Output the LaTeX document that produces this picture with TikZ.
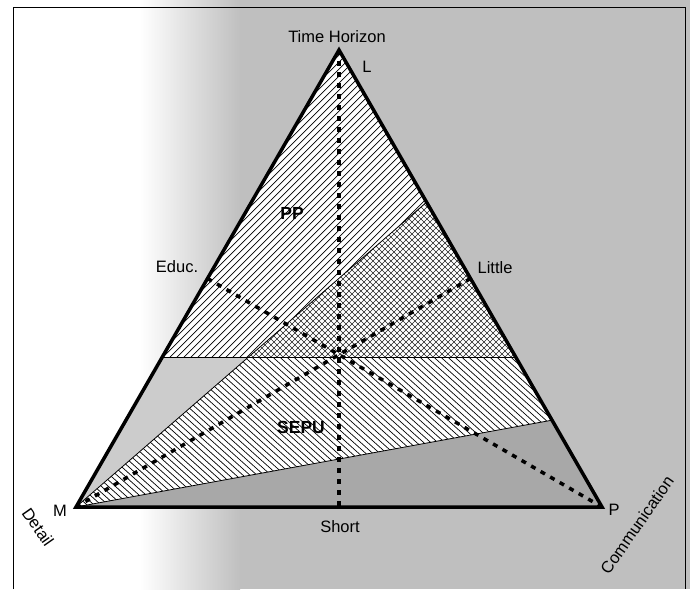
\documentclass[tikz,border=0pt]{standalone}
\usepackage{fontspec}
\setmainfont{Liberation Sans}
\usetikzlibrary{calc}
\definecolor{bggray}{gray}{0.75}
\definecolor{wedgegray}{gray}{0.80}
\definecolor{basegray}{gray}{0.66}
\begin{document}
\begin{tikzpicture}[x=1pt,y=-1pt,
  lbl/.style={font=\fontsize{16.5}{18}\selectfont, inner sep=0pt},
  blbl/.style={font=\fontsize{17.5}{19}\selectfont\bfseries, inner sep=0pt},
  edgeline/.style={line width=3.5pt, line join=miter},
  median/.style={line width=3.5pt, dash pattern=on 5pt off 6pt},
  bound/.style={line width=0.8pt},
  hatchline/.style={line width=0.7pt},
  crossline/.style={line width=0.6pt, black!85},
  frameline/.style={line width=1pt}]
\useasboundingbox (0,0) rectangle (690,589);
% background
\fill[white] (0,0) rectangle (690,589);
\shade[left color=white, right color=bggray] (140,0) rectangle (240,589);
\fill[bggray] (240,0) rectangle (690,589);
\draw[frameline] (13,589) -- (13,7) -- (685,7) -- (685,589);
% key points
\coordinate (L) at (339,50);
\coordinate (M) at (76,507);
\coordinate (P) at (602,507);
\coordinate (A) at ($(L)!0.672!(M)$);
\coordinate (B) at ($(L)!0.672!(P)$);
\coordinate (Q) at ($(L)!0.333!(P)$);
\coordinate (R) at ($(L)!0.81!(P)$);
\coordinate (H) at (intersection of M--Q and A--B);
\coordinate (E) at ($(L)!0.5!(M)$);
\coordinate (Li) at ($(L)!0.5!(P)$);
\coordinate (S) at ($(M)!0.5!(P)$);
% grey wedges
\fill[wedgegray] (A) -- (H) -- (M) -- cycle;
\fill[basegray] (M) -- (R) -- (P) -- cycle;
% PP region
\fill[white] (L) -- (Q) -- (H) -- (A) -- cycle;
\begin{scope}
  \clip (L) -- (Q) -- (H) -- (A) -- cycle;
  \foreach \x in {-500,-493,...,700} \draw[hatchline] (\x,600) -- ++(600,-600);
\end{scope}
% crosshatch region
\fill[white] (H) -- (Q) -- (B) -- cycle;
\begin{scope}
  \clip (H) -- (Q) -- (B) -- cycle;
  \foreach \x in {-500,-494,...,800} {
    \draw[crossline] (\x,600) -- ++(600,-600);
    \draw[crossline] (\x,0) -- ++(600,600);
  }
\end{scope}
% SEPU region
\fill[white] (H) -- (B) -- (R) -- (M) -- cycle;
\begin{scope}
  \clip (H) -- (B) -- (R) -- (M) -- cycle;
  \foreach \x in {-600,-593,...,700} \draw[hatchline] (\x,0) -- ++(600,540);
\end{scope}
% boundaries
\draw[bound] (A) -- (B);
\draw[bound] (M) -- (Q);
\draw[bound] (M) -- (R);
% medians
\draw[median] (L) -- (S);
\draw[median] (E) -- (P);
\draw[median] (Li) -- (M);
% triangle
\draw[edgeline] (L) -- (M) -- (P) -- cycle;
% labels
\node[lbl] (th) at (337,37) {Time Horizon};
\node[lbl] (lL) at (367,67) {L};
\node[lbl] (educ) at (177,267) {Educ.};
\node[lbl] (little) at (495,268) {Little};
\node[blbl] (pp) at (292,213) {PP};
\node[blbl] (sepu) at (301,427) {SEPU};
\node[lbl] (lM) at (60,511) {M};
\node[lbl] (lP) at (614,510) {P};
\node[lbl] (short) at (340,527) {Short};
\node[lbl, rotate=-55] (detail) at (38,527) {Detail};
\node[lbl, rotate=55] (comm) at (637,525) {Communication};
\end{tikzpicture}
\end{document}
